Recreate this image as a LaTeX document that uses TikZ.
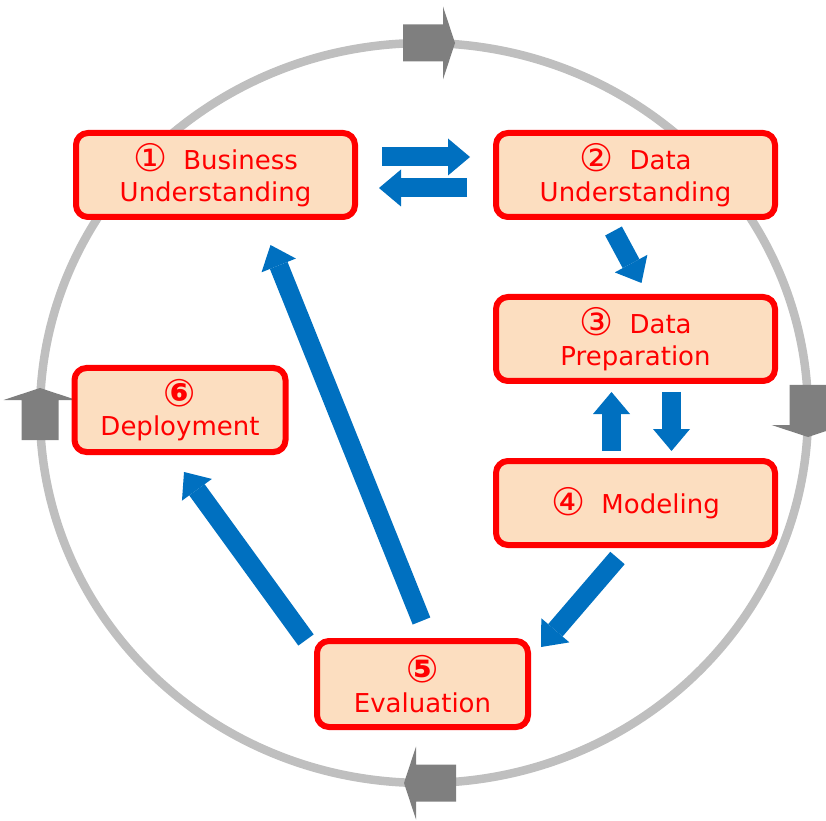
\documentclass[tikz,border=0pt]{standalone}
\usepackage{fontspec}
\setmainfont{DejaVu Sans}
\usetikzlibrary{arrows.meta,positioning}
\definecolor{ringgray}{HTML}{BFBFBF}
\definecolor{ringdark}{HTML}{7F7F7F}
\definecolor{stagered}{HTML}{FF0000}
\definecolor{stagefill}{HTML}{FCDEC0}
\definecolor{flowblue}{HTML}{0070C0}
\newcommand{\stepnum}[1]{\raisebox{-2.5pt}{\fontsize{38}{32}\selectfont #1}}

\begin{document}
\begin{tikzpicture}[x=1pt,y=1pt,
    stage/.style={draw=stagered,line width=6pt,fill=stagefill,rounded corners=12pt,
      minimum width=279pt,minimum height=84pt,inner sep=0pt,outer sep=0pt,
      align=center,text=stagered,font=\fontsize{26}{32}\selectfont},
    small stage/.style={stage,minimum width=211pt},
    flow/.style={draw=flowblue,line width=19pt,
      -{Triangle[length=22pt,width=37pt,line width=0pt]}},
    ring head/.style={fill=ringdark}]
  \useasboundingbox (0,0) rectangle (826,820);

  % the cycle
  \draw[ringgray,line width=8.5pt] (424,407) ellipse [x radius=384,y radius=370];
  \foreach \px/\py/\ang in {424/777/0, 808/414/-90, 435/37/180, 40/401/90}
    \fill[ring head,shift={(\px,\py)},rotate=\ang]
      (-21,-18.5) rectangle (19,18.5) (19,-36.5) -- (31,0) -- (19,36.5) -- cycle;

  \node[stage] (1) at (215.5,645) {\stepnum{①}\hspace{0.62em}Business\\Understanding};
  \node[stage] (2) [right=141pt of 1] {\stepnum{②}\hspace{0.62em}Data\\Understanding};
  \node[stage] (3) [below=80pt of 2] {\stepnum{③}\hspace{0.62em}Data\\Preparation};
  \node[stage] (4) [below=80pt of 3] {\stepnum{④}\hspace{0.62em}Modeling};
  \node[small stage,minimum height=86pt] (5) at (422.5,136) {\stepnum{\bfseries ⑤}\\Evaluation};
  \node[small stage] (6) at (180,410) {\stepnum{\bfseries ⑥}\\Deployment};

  \path
    ([shift={(27pt,18pt)}]1.east) edge[flow] ([shift={(-26pt,18pt)}]2.west)
    ([shift={(-29pt,-13pt)}]2.west) edge[flow] ([shift={(24pt,-13pt)}]1.east)
    ([shift={(-22pt,-14pt)}]2.south) edge[flow] ([shift={(6pt,14pt)}]3.north)
    ([shift={(36pt,-11pt)}]3.south) edge[flow] ([shift={(36pt,10pt)}]4.north)
    ([shift={(-24pt,10pt)}]4.north) edge[flow] ([shift={(-24pt,-11pt)}]3.south)
    ([shift={(-18pt,-13pt)}]4.south) edge[flow] ([shift={(13pt,37pt)}]5.east)
    ([shift={(-1pt,20pt)}]5.north) edge[flow] ([shift={(55pt,-28pt)}]1.south)
    ([shift={(-11pt,1pt)}]5.north west) edge[flow] ([shift={(4pt,-20pt)}]6.south);
\end{tikzpicture}
\end{document}
